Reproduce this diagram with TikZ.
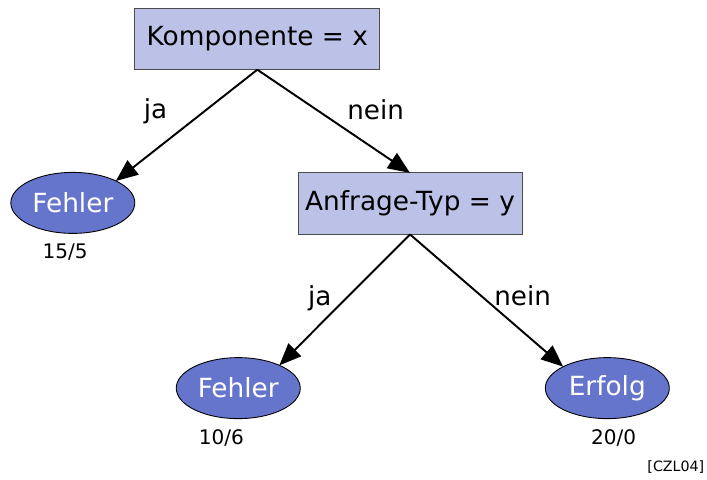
\documentclass[tikz,border=0pt]{standalone}
\usepackage{fontspec}
\setmainfont{DejaVu Sans}
\usepackage{tikz,tkz-graph}
\usetikzlibrary{arrows.meta,shapes.geometric}
\definecolor{boxBlue}{RGB}{188,194,231}
\definecolor{leafBlue}{RGB}{102,117,204}
\tikzstyle{testBox}=[shape = rectangle, minimum height = 1.23cm, inner sep = 0pt, draw = black!70, line width = 0.5pt, fill = boxBlue, text = black, font = \fontsize{15}{18}\selectfont]
\tikzstyle{leafOval}=[shape = ellipse, minimum width = 2.48cm, minimum height = 1.22cm, inner sep = 0pt, draw, line width = 0.5pt, fill = leafBlue, text = white, font = \fontsize{15}{18}\selectfont]
\tikzstyle{srcStyle}=[inner sep = 0pt, font = \fontsize{8.1}{10}\selectfont]

\begin{document}
\begin{tikzpicture}[scale = 14.14]
\tikzstyle{VertexStyle} = []
\tikzstyle{EdgeStyle} = [draw, line width = 1.1pt, -{Triangle[length = 0.44cm, width = 0.36cm]}]
\tikzstyle{LabelStyle} = [fill = none, draw = none, inner sep = 0pt, font = \fontsize{14.9}{18}\selectfont]
\tikzstyle{countStyle}=[inner sep = 0pt, font = \fontsize{11.4}{14}\selectfont]
\useasboundingbox (0,0) rectangle (1,0.678);
\Vertex[style = {testBox, minimum width = 4.9cm}, x = 0.364, y = 0.623, L = {Komponente = x}]{komp}
\Vertex[style = {testBox, minimum width = 4.48cm}, x = 0.580, y = 0.390, L = {Anfrage-Typ = y}]{typ}
\Vertex[style = leafOval, x = 0.103, y = 0.391, L = {Fehler}]{fehlerA}
\Vertex[style = leafOval, x = 0.337, y = 0.129, L = {Fehler}]{fehlerB}
\Vertex[style = leafOval, x = 0.859, y = 0.129, L = {Erfolg}]{erfolg}
\Vertex[style = countStyle, x = 0.092, y = 0.322, L = {15/5}]{cA}
\Vertex[style = countStyle, x = 0.313, y = 0.059, L = {10/6}]{cB}
\Vertex[style = countStyle, x = 0.868, y = 0.059, L = {20/0}]{cC}
\node[srcStyle] (src) at (0.956, 0.018) {{[CZL04]}};
\Edge[label = {ja}, labelstyle = {xshift = -0.62cm, yshift = 0.29cm}](komp.south)(fehlerA.27)
\Edge[label = {nein}, labelstyle = {xshift = 0.84cm, yshift = 0.24cm}](komp.south)(typ.north)
\Edge[label = {ja}, labelstyle = {xshift = -0.5cm, yshift = 0.04cm}](typ.south)(fehlerB.29)
\Edge[label = {nein}, labelstyle = {xshift = 0.72cm, yshift = 0.1cm}](typ.south)(erfolg.154)
\end{tikzpicture}
\end{document}
